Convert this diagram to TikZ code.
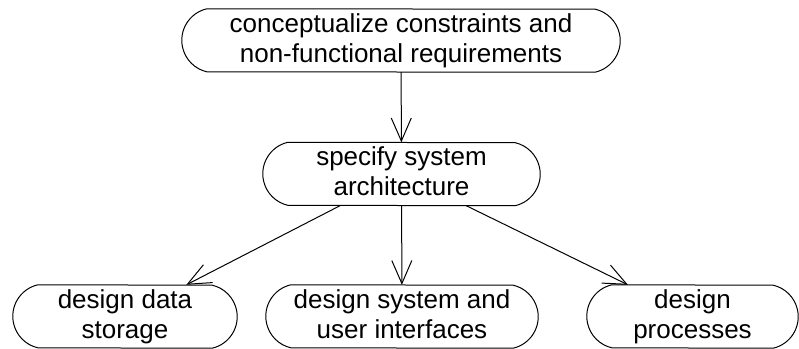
\documentclass[tikz,border=0pt]{standalone}
\usepackage{fontspec}
\setmainfont{Liberation Sans}
\usetikzlibrary{arrows.meta,calc}

% line strut: fixes the height of the first line and the depth of the last
\newcommand{\lnstrut}{\rule[-5pt]{0pt}{24pt}}

\tikzset{
  activity/.style={rectangle, draw=none, inner sep=0pt, minimum height=63pt,
    align=center, font=\fontsize{26pt}{30pt}\selectfont},
  outline/.style={draw=black, line width=1pt},
  flow/.style={draw=black, line width=1pt,
    -{Straight Barb[length=23pt, width=20pt, line width=1pt]}},
}

% rounded side caps: circular arcs of radius 32.35pt, bulge 25pt, height 63pt
\newcommand{\capoutline}[1]{%
  \path[outline] ($(#1.north west)+(25pt,0)$)
    arc[start angle=103.1, end angle=256.9, radius=32.35pt]
    -- ($(#1.south east)+(-25pt,0)$)
    arc[start angle=-76.9, end angle=76.9, radius=32.35pt]
    -- cycle;}

\begin{document}
\begin{tikzpicture}[x=1pt, y=1pt]
  \useasboundingbox (0,0) rectangle (799,348);

  \node[activity, minimum width=438pt] (concept) at (401,307.5)
    {\lnstrut conceptualize constraints and\\\lnstrut non-functional requirements};
  \node[activity, minimum width=277pt] (arch) at (401.5,174)
    {\lnstrut specify system\\\lnstrut architecture};
  \node[activity, minimum width=224pt] (storage) at (125,31.5)
    {\lnstrut design data\\\lnstrut storage};
  \node[activity, minimum width=272pt] (ui) at (402,31.5)
    {\lnstrut design system and\\\lnstrut user interfaces};
  \node[activity, minimum width=211pt] (proc) at (692.5,31.5)
    {\lnstrut design\\\lnstrut processes};

  \foreach \n in {concept, arch, storage, ui, proc} {\capoutline{\n}}

  \draw[flow] (concept) -- (arch);
  \draw[flow] (arch) -- (storage);
  \draw[flow] (arch) -- (ui);
  \draw[flow] (arch) -- (proc);
\end{tikzpicture}
\end{document}
